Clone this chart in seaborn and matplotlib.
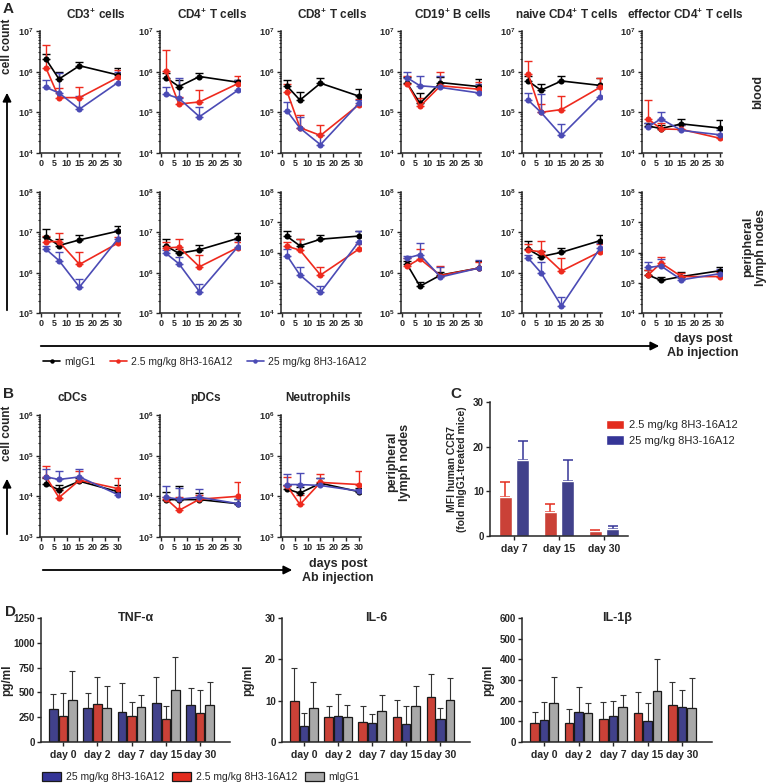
import numpy as np
import pandas as pd
import matplotlib
matplotlib.use("Agg")
import matplotlib.pyplot as plt
import seaborn as sns
from matplotlib.ticker import LogLocator, FuncFormatter, NullFormatter, FixedLocator
from matplotlib.patches import Patch
from matplotlib.lines import Line2D

sns.set_theme(style="ticks")
plt.rcParams["font.family"] = ["Liberation Sans", "DejaVu Sans"]
plt.rcParams["font.weight"] = "bold"
plt.rcParams["mathtext.fontset"] = "custom"
plt.rcParams["mathtext.bf"] = "Liberation Sans:bold"
plt.rcParams["mathtext.rm"] = "Liberation Sans:bold"
plt.rcParams["axes.linewidth"] = 1.1

# ---------------- data ----------------
days = [2, 7, 15, 30]
groups = ["mIgG1", "2.5 mg/kg 8H3-16A12", "25 mg/kg 8H3-16A12"]
line_colors = ["#000000", "#ee2a1e", "#4b4bb5"]

# each list: [mIgG1, 2.5 mg/kg, 25 mg/kg]; *_up = top of error bar
cd3_blood = [[2.0e6, 6.6e5, 1.4e6, 8.3e5], [1.2e6, 2.3e5, 2.3e5, 7.2e5], [4.1e5, 3.0e5, 1.2e5, 5.4e5]]
cd3_blood_up = [[2.7e6, 1.0e6, 1.7e6, 1.2e6], [4.6e6, 3.9e5, 4.3e5, 1.1e6], [6.3e5, 9.1e5, 2.5e5, 1.0e6]]
cd4_blood = [[7.1e5, 4.3e5, 7.6e5, 5.5e5], [1.05e6, 1.6e5, 1.8e5, 5.1e5], [2.8e5, 2.2e5, 7.8e4, 3.5e5]]
cd4_blood_up = [[9.3e5, 6.3e5, 9.5e5, 6.3e5], [3.4e6, 2.4e5, 3.5e5, 7.8e5], [4.1e5, 6.9e5, 1.35e5, 6.3e5]]
cd8_blood = [[4.4e5, 2.0e5, 5.2e5, 2.5e5], [3.2e5, 4.2e4, 2.7e4, 1.55e5], [1.07e5, 4.1e4, 1.6e4, 1.66e5]]
cd8_blood_up = [[6.2e5, 3.2e5, 6.8e5, 3.7e5], [5.1e5, 8.5e4, 4.9e4, 2.1e5], [1.8e5, 7.6e4, 2.75e4, 2.05e5]]
cd19_blood = [[5.2e5, 1.66e5, 5.4e5, 4.3e5], [5.1e5, 1.4e5, 4.5e5, 3.7e5], [7.1e5, 4.5e5, 4.1e5, 3.0e5]]
cd19_blood_up = [[7.6e5, 3.0e5, 7.6e5, 6.5e5], [7.8e5, 2.3e5, 1.0e6, 5.6e5], [1.0e6, 7.8e5, 7.8e5, 5.1e5]]
naive_blood = [[5.9e5, 3.5e5, 5.9e5, 4.6e5], [8.7e5, 1.0e5, 1.17e5, 4.1e5], [2.0e5, 1.0e5, 2.7e4, 2.4e5]]
naive_blood_up = [[7.7e5, 5.0e5, 7.7e5, 6.9e5], [1.8e6, 1.6e5, 2.5e5, 6.8e5], [3.0e5, 2.8e5, 5.3e4, 4.1e5]]
eff_blood = [[4.6e4, 4.0e4, 5.2e4, 4.1e4], [6.9e4, 3.9e4, 3.8e4, 2.3e4], [4.4e4, 6.9e4, 3.6e4, 2.8e4]]
eff_blood_up = [[5.5e4, 4.9e4, 6.9e4, 6.5e4], [2.0e5, 5.5e4, 4.9e4, 3.0e4], [5.5e4, 1.0e5, 4.9e4, 3.6e4]]

cd3_ln = [[7.8e6, 4.7e6, 6.5e6, 1.07e7], [5.9e6, 5.9e6, 1.6e6, 5.4e6], [3.8e6, 2.0e6, 4.4e5, 6.9e6]]
cd3_ln_up = [[1.2e7, 6.9e6, 8.5e6, 1.45e7], [8.1e6, 9.8e6, 3.2e6, 7.6e6], [4.7e6, 3.2e6, 6.9e5, 1.15e7]]
cd4_ln = [[4.6e6, 3.0e6, 3.7e6, 7.1e6], [4.1e6, 4.3e6, 1.4e6, 4.2e6], [3.0e6, 1.66e6, 3.4e5, 4.4e6]]
cd4_ln_up = [[6.8e6, 3.9e6, 4.9e6, 9.8e6], [5.6e6, 6.9e6, 2.8e6, 5.9e6], [3.7e6, 2.5e6, 5.2e5, 6.5e6]]
cd8_ln = [[3.4e6, 1.66e6, 2.75e6, 3.5e6], [1.6e6, 1.2e6, 1.8e5, 1.3e6], [7.8e5, 1.8e5, 4.8e4, 2.3e6]]
cd8_ln_up = [[5.1e6, 2.75e6, 3.8e6, 5.1e6], [2.3e6, 2.9e6, 3.2e5, 1.95e6], [1.3e6, 3.2e5, 8.1e4, 5.1e6]]
cd19_ln = [[1.6e6, 4.6e5, 8.7e5, 1.3e6], [1.45e6, 2.2e6, 8.5e5, 1.3e6], [2.3e6, 2.8e6, 7.8e5, 1.3e6]]
cd19_ln_up = [[2.0e6, 6.0e5, 1.05e6, 2.0e6], [2.3e6, 3.9e6, 1.45e6, 1.85e6], [2.6e6, 5.5e6, 1.35e6, 2.1e6]]
naive_ln = [[3.8e6, 2.5e6, 3.2e6, 6.2e6], [3.6e6, 3.3e6, 1.1e6, 3.3e6], [2.3e6, 1.0e6, 1.5e5, 4.0e6]]
naive_ln_up = [[6.2e6, 3.5e6, 4.2e6, 8.5e6], [5.0e6, 6.0e6, 2.3e6, 5.2e6], [2.7e6, 1.8e6, 2.5e5, 5.5e6]]
eff_ln = [[1.8e5, 1.2e5, 1.6e5, 2.5e5], [1.8e5, 4.5e5, 1.6e5, 1.6e5], [3.2e5, 3.6e5, 1.25e5, 2.0e5]]
eff_ln_up = [[2.6e5, 1.55e5, 2.25e5, 3.2e5], [2.6e5, 7.0e5, 2.1e5, 2.3e5], [4.7e5, 5.9e5, 1.8e5, 2.9e5]]

cdc_ln = [[2.0e4, 1.45e4, 2.35e4, 1.3e4], [3.0e4, 9.3e3, 2.5e4, 1.55e4], [3.0e4, 2.6e4, 3.0e4, 1.1e4]]
cdc_ln_up = [[2.75e4, 1.95e4, 2.75e4, 1.85e4], [5.6e4, 1.55e4, 4.2e4, 2.9e4], [4.8e4, 4.3e4, 4.7e4, 1.45e4]]
pdc_ln = [[8.3e3, 8.3e3, 8.3e3, 6.6e3], [8.7e3, 4.5e3, 8.5e3, 1.0e4], [9.5e3, 8.5e3, 9.5e3, 6.6e3]]
pdc_ln_up = [[1.3e4, 1.75e4, 1.2e4, 8.5e3], [9.5e3, 9.5e3, 1.05e4, 2.2e4], [1.8e4, 1.6e4, 1.55e4, 8.7e3]]
neu_ln = [[1.5e4, 1.2e4, 2.1e4, 1.3e4], [1.8e4, 6.3e3, 2.2e4, 1.95e4], [1.95e4, 1.95e4, 1.85e4, 1.35e4]]
neu_ln_up = [[1.85e4, 1.7e4, 2.75e4, 1.6e4], [3.0e4, 1.05e4, 3.5e4, 4.2e4], [3.5e4, 3.8e4, 2.8e4, 1.55e4]]

# panel C
ccr7_days = ["day 7", "day 15", "day 30"]
ccr7_low = [8.7, 5.4, 1.1]
ccr7_low_up = [12.0, 7.2, 1.3]
ccr7_high = [17.0, 12.4, 1.6]
ccr7_high_up = [21.3, 17.1, 2.3]

# panel D
cyto_days = ["day 0", "day 2", "day 7", "day 15", "day 30"]
tnf_high = [330, 340, 300, 390, 370]
tnf_high_up = [480, 495, 590, 660, 545]
tnf_low = [260, 385, 260, 235, 295]
tnf_low_up = [490, 655, 400, 365, 520]
tnf_ctrl = [420, 340, 350, 525, 370]
tnf_ctrl_up = [720, 565, 470, 855, 605]
il6_low = [10.0, 6.1, 4.9, 6.1, 10.8]
il6_low_up = [18.0, 8.8, 8.8, 10.2, 16.5]
il6_high = [3.8, 6.3, 4.5, 4.4, 5.5]
il6_high_up = [7.0, 11.6, 6.8, 8.7, 8.2]
il6_ctrl = [8.3, 6.0, 7.5, 8.8, 10.2]
il6_ctrl_up = [14.5, 9.0, 11.3, 13.5, 15.6]
il1b_low = [90, 92, 112, 140, 180]
il1b_low_up = [145, 160, 192, 243, 288]
il1b_high = [105, 145, 125, 102, 168]
il1b_high_up = [195, 265, 200, 190, 252]
il1b_ctrl = [190, 138, 170, 248, 165]
il1b_ctrl_up = [315, 190, 228, 400, 310]

RED = "#e32c1e"
BLUE = "#353597"
GREY = "#a8a8a8"

# ---------------- figure ----------------
W, H = 770, 784
fig = plt.figure(figsize=(W / 100, H / 100), dpi=100)


def px_axes(x0, y0, x1, y1):
    return fig.add_axes([x0 / W, 1 - y1 / H, (x1 - x0) / W, (y1 - y0) / H])


def ftext(x, y, s, **kw):
    fig.text(x / W, 1 - y / H, s, **kw)


def farrow(x0, y0, x1, y1):
    fig.add_artist(matplotlib.patches.FancyArrowPatch(
        (x0 / W, 1 - y0 / H), (x1 / W, 1 - y1 / H), transform=fig.transFigure,
        arrowstyle="-|>,head_length=5,head_width=2.5", color="black", lw=1.3,
        mutation_scale=1))


def log_fmt(v, p):
    return r"$\mathbf{10^{%d}}$" % int(round(np.log10(v)))


def line_panel(ax, means, ups, ylim, title=None, title_x=None, title_y=None):
    rows = []
    for g, m in zip(groups, means):
        for d, v in zip(days, m):
            rows.append({"day": d, "value": v, "group": g})
    df = pd.DataFrame(rows)
    ax.set_yscale("log")
    for g, m, u, c in zip(groups, means, ups, line_colors):
        m = np.array(m)
        u = np.array(u)
        ax.errorbar(days, m, yerr=[np.zeros_like(m), u - m], fmt="none",
                    ecolor=c, elinewidth=1.0, capsize=2.6, capthick=1.0, zorder=2)
    sns.lineplot(data=df, x="day", y="value", hue="group", hue_order=groups,
                 palette=line_colors, marker="o", markersize=4.4, markeredgewidth=0,
                 linewidth=1.2, errorbar=None, legend=False, ax=ax, zorder=3)
    ax.set_ylim(*ylim)
    ax.set_xlim(-0.39, 30.8)
    ax.set_xticks([0, 5, 10, 15, 20, 25, 30])
    lo, hi = int(round(np.log10(ylim[0]))), int(round(np.log10(ylim[1])))
    ax.yaxis.set_major_locator(FixedLocator([10.0 ** k for k in range(lo, hi + 1)]))
    ax.yaxis.set_minor_locator(LogLocator(base=10, subs=np.arange(2, 10), numticks=100))
    ax.yaxis.set_major_formatter(FuncFormatter(log_fmt))
    ax.yaxis.set_minor_formatter(NullFormatter())
    ax.tick_params(axis="both", which="major", length=3, width=1.0, labelsize=6.5, pad=1.5)
    ax.tick_params(axis="y", which="minor", length=1.8, width=0.8)
    ax.set_xlabel("")
    ax.set_ylabel("")
    sns.despine(ax=ax)
    if title:
        ftext(title_x, title_y, title, ha="center", va="center", fontsize=8.5, fontweight="bold")


col_x = [41, 161, 282, 402, 523, 643]
title_xs = [96, 212, 332, 453, 567, 685]
titles = [r"CD3$^{\mathbf{+}}$ cells", r"CD4$^{\mathbf{+}}$ T cells", r"CD8$^{\mathbf{+}}$ T cells",
          r"CD19$^{\mathbf{+}}$ B cells", r"naive CD4$^{\mathbf{+}}$ T cells",
          r"effector CD4$^{\mathbf{+}}$ T cells"]
top_data = [(cd3_blood, cd3_blood_up), (cd4_blood, cd4_blood_up), (cd8_blood, cd8_blood_up),
            (cd19_blood, cd19_blood_up), (naive_blood, naive_blood_up), (eff_blood, eff_blood_up)]
bot_data = [(cd3_ln, cd3_ln_up, (1e5, 1e8)), (cd4_ln, cd4_ln_up, (1e5, 1e8)),
            (cd8_ln, cd8_ln_up, (1e4, 1e8)), (cd19_ln, cd19_ln_up, (1e5, 1e8)),
            (naive_ln, naive_ln_up, (1e5, 1e8)), (eff_ln, eff_ln_up, (1e4, 1e8))]

for i in range(6):
    x0 = col_x[i] - 1
    ax = px_axes(x0, 31, x0 + 80, 153)
    line_panel(ax, top_data[i][0], top_data[i][1], (1e4, 1e7), titles[i], title_xs[i], 15)
    ax = px_axes(x0, 192, x0 + 80, 313)
    line_panel(ax, bot_data[i][0], bot_data[i][1], bot_data[i][2])

# panel B
b_titles = ["cDCs", "pDCs", "Neutrophils"]
b_title_x = [72, 205, 318]
b_data = [(cdc_ln, cdc_ln_up), (pdc_ln, pdc_ln_up), (neu_ln, neu_ln_up)]
for i in range(3):
    x0 = col_x[i] - 1
    ax = px_axes(x0, 415, x0 + 80, 537)
    line_panel(ax, b_data[i][0], b_data[i][1], (1e3, 1e6), b_titles[i], b_title_x[i], 398)

# panel A/B annotations
ftext(8, 9, "A", fontsize=11, fontweight="bold", ha="center", va="center")
ftext(8, 394, "B", fontsize=11, fontweight="bold", ha="center", va="center")
ftext(456, 394, "C", fontsize=11, fontweight="bold", ha="center", va="center")
ftext(10, 612, "D", fontsize=11, fontweight="bold", ha="center", va="center")

ftext(7, 46, "cell count", rotation=90, fontsize=8.5, fontweight="bold", ha="center", va="center")
farrow(7, 313, 7, 90)
ftext(7, 433, "cell count", rotation=90, fontsize=8.5, fontweight="bold", ha="center", va="center")
farrow(7, 537, 7, 476)

farrow(38, 346, 662, 346)
ftext(703, 346, "days post\nAb injection", fontsize=9, fontweight="bold", ha="center", va="center",
      linespacing=1.15)
farrow(40, 570, 295, 570)
ftext(338, 571, "days post\nAb injection", fontsize=9, fontweight="bold", ha="center", va="center",
      linespacing=1.15)

ftext(758, 92, "blood", rotation=90, fontsize=9, fontweight="bold", ha="center", va="center")
ftext(755, 247, "peripheral\nlymph nodes", rotation=90, fontsize=9, fontweight="bold",
      ha="center", va="center", linespacing=1.1)
ftext(399, 462, "peripheral\nlymph nodes", rotation=90, fontsize=9, fontweight="bold",
      ha="center", va="center", linespacing=1.1)

handles_a = [Line2D([0], [0], color=c, lw=1.2, marker="o", markersize=3.2, markeredgewidth=0)
             for c in line_colors]
fig.legend(handles_a, groups, loc="center left", bbox_to_anchor=(34 / W, 1 - 362 / H), ncol=3,
           frameon=False, handlelength=1.6, handletextpad=0.4, columnspacing=1.4,
           prop={"weight": "normal", "size": 7.5})

# ---------------- panel C ----------------
axc = px_axes(490, 402, 628, 536)
dfc = pd.DataFrame({"day": ccr7_days * 2,
                    "value": ccr7_low + ccr7_high,
                    "group": [groups[1]] * 3 + [groups[2]] * 3})
sns.barplot(data=dfc, x="day", y="value", hue="group", hue_order=[groups[1], groups[2]],
            order=ccr7_days, palette=[RED, BLUE], width=0.78, gap=0.26, errorbar=None,
            legend=False, ax=axc, zorder=2)
for cont, m, u, c in zip(axc.containers, [ccr7_low, ccr7_high], [ccr7_low_up, ccr7_high_up], [RED, BLUE]):
    xs = [p.get_x() + p.get_width() / 2 for p in cont]
    m = np.array(m)
    u = np.array(u)
    axc.errorbar(xs, m, yerr=[np.zeros_like(m), u - m], fmt="none", ecolor=c,
                 elinewidth=1.1, capsize=3.5, capthick=1.1, zorder=1)
axc.set_xlim(-0.53, 2.53)
axc.set_ylim(0, 30)
axc.set_yticks([0, 10, 20, 30])
axc.tick_params(axis="both", length=3, width=1.0, labelsize=7, pad=1.5)
axc.tick_params(axis="x", labelsize=7.5, pad=3)
axc.set_xlabel("")
axc.set_ylabel("MFI human CCR7\n(fold mIgG1-treated mice)", fontsize=7.5, fontweight="bold",
               linespacing=1.1, labelpad=4)
sns.despine(ax=axc)
axc.legend([Patch(facecolor=RED), Patch(facecolor=BLUE)], [groups[1], groups[2]],
           loc="upper left", bbox_to_anchor=(596 / W, 1 - 410 / H), bbox_transform=fig.transFigure,
           frameon=False, handlelength=1.6, handleheight=0.9, handletextpad=0.5, labelspacing=0.45,
           prop={"weight": "normal", "size": 8})

# ---------------- panel D ----------------
d_color = {groups[0]: GREY, groups[1]: RED, groups[2]: BLUE}


def bar_panel(ax, series, ylim, yticks, title):
    # series: list of (group, means, ups) in plotting order
    order_groups = [s[0] for s in series]
    rows = []
    for g, m, u in series:
        for d, v in zip(cyto_days, m):
            rows.append({"day": d, "value": v, "group": g})
    df = pd.DataFrame(rows)
    sns.barplot(data=df, x="day", y="value", hue="group", hue_order=order_groups,
                order=cyto_days, palette=d_color, width=0.83, gap=0.1, errorbar=None,
                edgecolor="#1a1a1a", linewidth=0.9, legend=False, ax=ax, zorder=2)
    for cont, (g, m, u) in zip(ax.containers, series):
        xs = [p.get_x() + p.get_width() / 2 for p in cont]
        m = np.array(m, dtype=float)
        u = np.array(u, dtype=float)
        ax.errorbar(xs, m, yerr=[np.zeros_like(m), u - m], fmt="none", ecolor="#333333",
                    elinewidth=0.8, capsize=2.2, capthick=0.8, zorder=1)
    ax.set_xlim(-0.64, 4.87)
    ax.set_ylim(*ylim)
    ax.set_yticks(yticks)
    ax.tick_params(axis="both", length=3, width=1.0, labelsize=7, pad=1.5)
    ax.tick_params(axis="x", labelsize=7.5, pad=3)
    ax.set_xlabel("")
    ax.set_ylabel("pg/ml", fontsize=8.5, fontweight="bold")
    ax.yaxis.set_label_coords(-0.148, 0.5)
    sns.despine(ax=ax)
    ax.text(0.5, 1.0, title, transform=ax.transAxes, ha="center", va="center",
            fontsize=9, fontweight="bold")


ax_tnf = px_axes(41, 618, 230, 742)
bar_panel(ax_tnf, [(groups[2], tnf_high, tnf_high_up), (groups[1], tnf_low, tnf_low_up),
                   (groups[0], tnf_ctrl, tnf_ctrl_up)], (0, 1250), [0, 250, 500, 750, 1000, 1250],
          "TNF-α")
ax_il6 = px_axes(282, 618, 470, 742)
bar_panel(ax_il6, [(groups[1], il6_low, il6_low_up), (groups[2], il6_high, il6_high_up),
                   (groups[0], il6_ctrl, il6_ctrl_up)], (0, 30), [0, 10, 20, 30], "IL-6")
ax_il1 = px_axes(522, 618, 712, 742)
bar_panel(ax_il1, [(groups[1], il1b_low, il1b_low_up), (groups[2], il1b_high, il1b_high_up),
                   (groups[0], il1b_ctrl, il1b_ctrl_up)], (0, 600), [0, 100, 200, 300, 400, 500, 600],
          "IL-1β")

fig.legend([Patch(facecolor=BLUE, edgecolor="#1a1a1a", lw=0.9),
            Patch(facecolor=RED, edgecolor="#1a1a1a", lw=0.9),
            Patch(facecolor=GREY, edgecolor="#1a1a1a", lw=0.9)],
           [groups[2], groups[1], groups[0]], loc="center left",
           bbox_to_anchor=(33 / W, 1 - 777 / H), ncol=3, frameon=False,
           handlelength=1.8, handleheight=0.9, handletextpad=0.5, columnspacing=0.7,
           prop={"weight": "normal", "size": 7.5})

fig.savefig("out.png", dpi=100)
